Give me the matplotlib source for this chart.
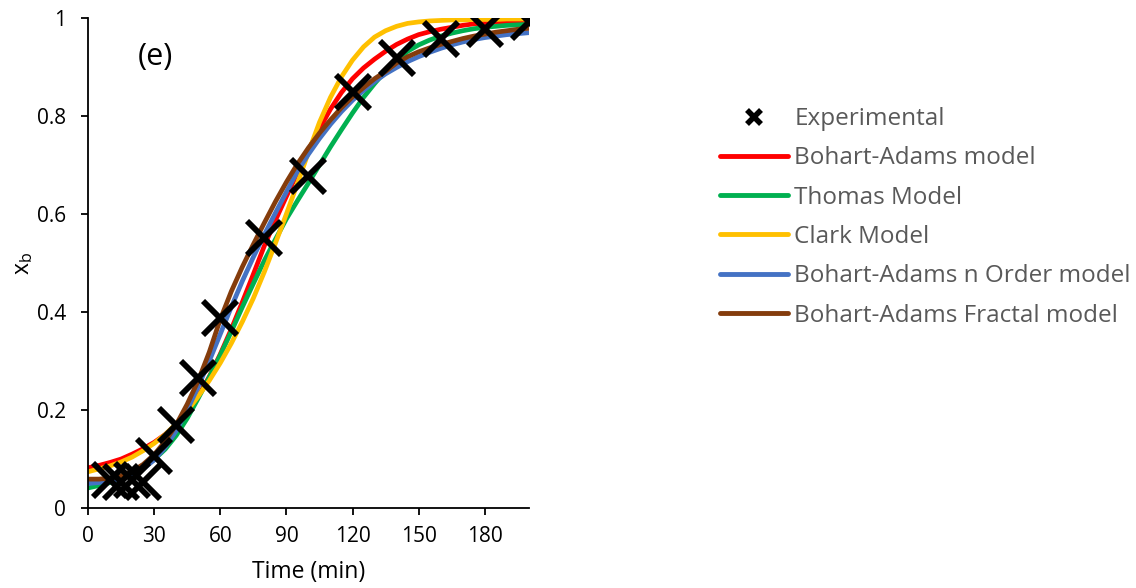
import matplotlib.pyplot as plt
from matplotlib.lines import Line2D

# breakthrough data, x_b vs time (min)
t_exp = [10, 15, 20, 25, 30, 40, 50, 60, 80, 100, 120, 140, 160, 180, 200]
xb_exp = [0.057, 0.054, 0.057, 0.054, 0.106, 0.17, 0.265, 0.388, 0.552, 0.678,
          0.849, 0.919, 0.957, 0.977, 0.992]

t_model = list(range(0, 205, 5))

bohart_adams = [0.082, 0.087, 0.093, 0.100, 0.110, 0.121, 0.134, 0.150, 0.170, 0.195,
                0.228, 0.268, 0.314, 0.365, 0.420, 0.477, 0.535, 0.587, 0.636, 0.684,
                0.730, 0.774, 0.814, 0.848, 0.876, 0.898, 0.916, 0.932, 0.946, 0.957,
                0.966, 0.972, 0.977, 0.981, 0.985, 0.988, 0.990, 0.991, 0.992, 0.993,
                0.994]
thomas = [0.041, 0.046, 0.052, 0.060, 0.070, 0.083, 0.099, 0.120, 0.148, 0.183,
          0.224, 0.267, 0.312, 0.360, 0.410, 0.458, 0.505, 0.548, 0.590, 0.627,
          0.663, 0.700, 0.737, 0.772, 0.806, 0.838, 0.866, 0.892, 0.914, 0.932,
          0.945, 0.955, 0.963, 0.969, 0.974, 0.978, 0.981, 0.983, 0.985, 0.986,
          0.987]
clark = [0.074, 0.080, 0.086, 0.094, 0.104, 0.117, 0.132, 0.150, 0.172, 0.198,
         0.228, 0.260, 0.296, 0.336, 0.380, 0.428, 0.482, 0.540, 0.600, 0.662,
         0.726, 0.787, 0.838, 0.880, 0.914, 0.941, 0.961, 0.974, 0.983, 0.989,
         0.992, 0.994, 0.995, 0.996, 0.996, 0.997, 0.997, 0.997, 0.998, 0.998,
         0.998]
ba_n_order = [0.050, 0.052, 0.055, 0.060, 0.068, 0.080, 0.098, 0.124, 0.158, 0.200,
              0.248, 0.300, 0.355, 0.410, 0.463, 0.512, 0.558, 0.602, 0.645, 0.687,
              0.722, 0.754, 0.783, 0.809, 0.832, 0.852, 0.870, 0.886, 0.899, 0.911,
              0.921, 0.930, 0.938, 0.945, 0.951, 0.956, 0.960, 0.963, 0.966, 0.968,
              0.970]
ba_fractal = [0.059, 0.059, 0.061, 0.066, 0.075, 0.089, 0.109, 0.136, 0.170, 0.212,
              0.260, 0.318, 0.385, 0.442, 0.492, 0.538, 0.582, 0.625, 0.665, 0.702,
              0.735, 0.765, 0.792, 0.817, 0.839, 0.858, 0.876, 0.891, 0.908, 0.921,
              0.931, 0.939, 0.946, 0.952, 0.958, 0.963, 0.967, 0.971, 0.974, 0.977,
              0.979]

models = [
    ("Bohart-Adams model", bohart_adams, "#FF0000"),
    ("Thomas Model", thomas, "#00B050"),
    ("Clark Model", clark, "#FFC000"),
    ("Bohart-Adams n Order model", ba_n_order, "#4472C4"),
    ("Bohart-Adams Fractal model", ba_fractal, "#843C0C"),
]

plt.rcParams['font.family'] = ['Open Sans', 'DejaVu Sans']

fig = plt.figure(figsize=(11.36, 5.88), dpi=100)
ax = fig.add_axes([0.0775, 0.136, 0.388, 0.8334])

for name, vals, col in models:
    ax.plot(t_model, vals, color=col, lw=3.4, solid_capstyle='round')
ax.plot(t_exp, xb_exp, ls='none', marker='x', ms=25, mew=4.2, color='black')

ax.set_xlim(0, 200)
ax.set_ylim(0, 1)
ax.set_xticks([0, 30, 60, 90, 120, 150, 180])
ax.set_yticks([0, 0.2, 0.4, 0.6, 0.8, 1])
ax.set_yticklabels(["0", "0.2", "0.4", "0.6", "0.8", "1"])
ax.tick_params(direction='out', length=5, width=1.3, labelsize=15, colors='black')
ax.tick_params(axis='x', pad=8)
ax.tick_params(axis='y', pad=11)
for s in ['top', 'right']:
    ax.spines[s].set_visible(False)
for s in ['left', 'bottom']:
    ax.spines[s].set_linewidth(1.3)

ax.set_xlabel("Time (min)", fontsize=16.5, labelpad=9)
ax.set_ylabel("x$_\\mathregular{b}$", fontsize=16.5, labelpad=1)
ax.text(0.152, 0.92, "(e)", transform=ax.transAxes, fontsize=22,
        ha='center', va='center')

handles = [Line2D([], [], ls='none', marker='x', ms=10, mew=4, color='black')]
labels = ["Experimental"]
for name, vals, col in models:
    handles.append(Line2D([], [], color=col, lw=3.5, solid_capstyle='round'))
    labels.append(name)

leg = fig.legend(handles, labels, loc='upper left', bbox_to_anchor=(0.634, 0.818),
                 frameon=False, fontsize=17.5, handlelength=2.8, handletextpad=0.25,
                 labelspacing=0.63, borderpad=0, borderaxespad=0)
for txt in leg.get_texts():
    txt.set_color('#595959')

fig.savefig("out.png", dpi=100)
